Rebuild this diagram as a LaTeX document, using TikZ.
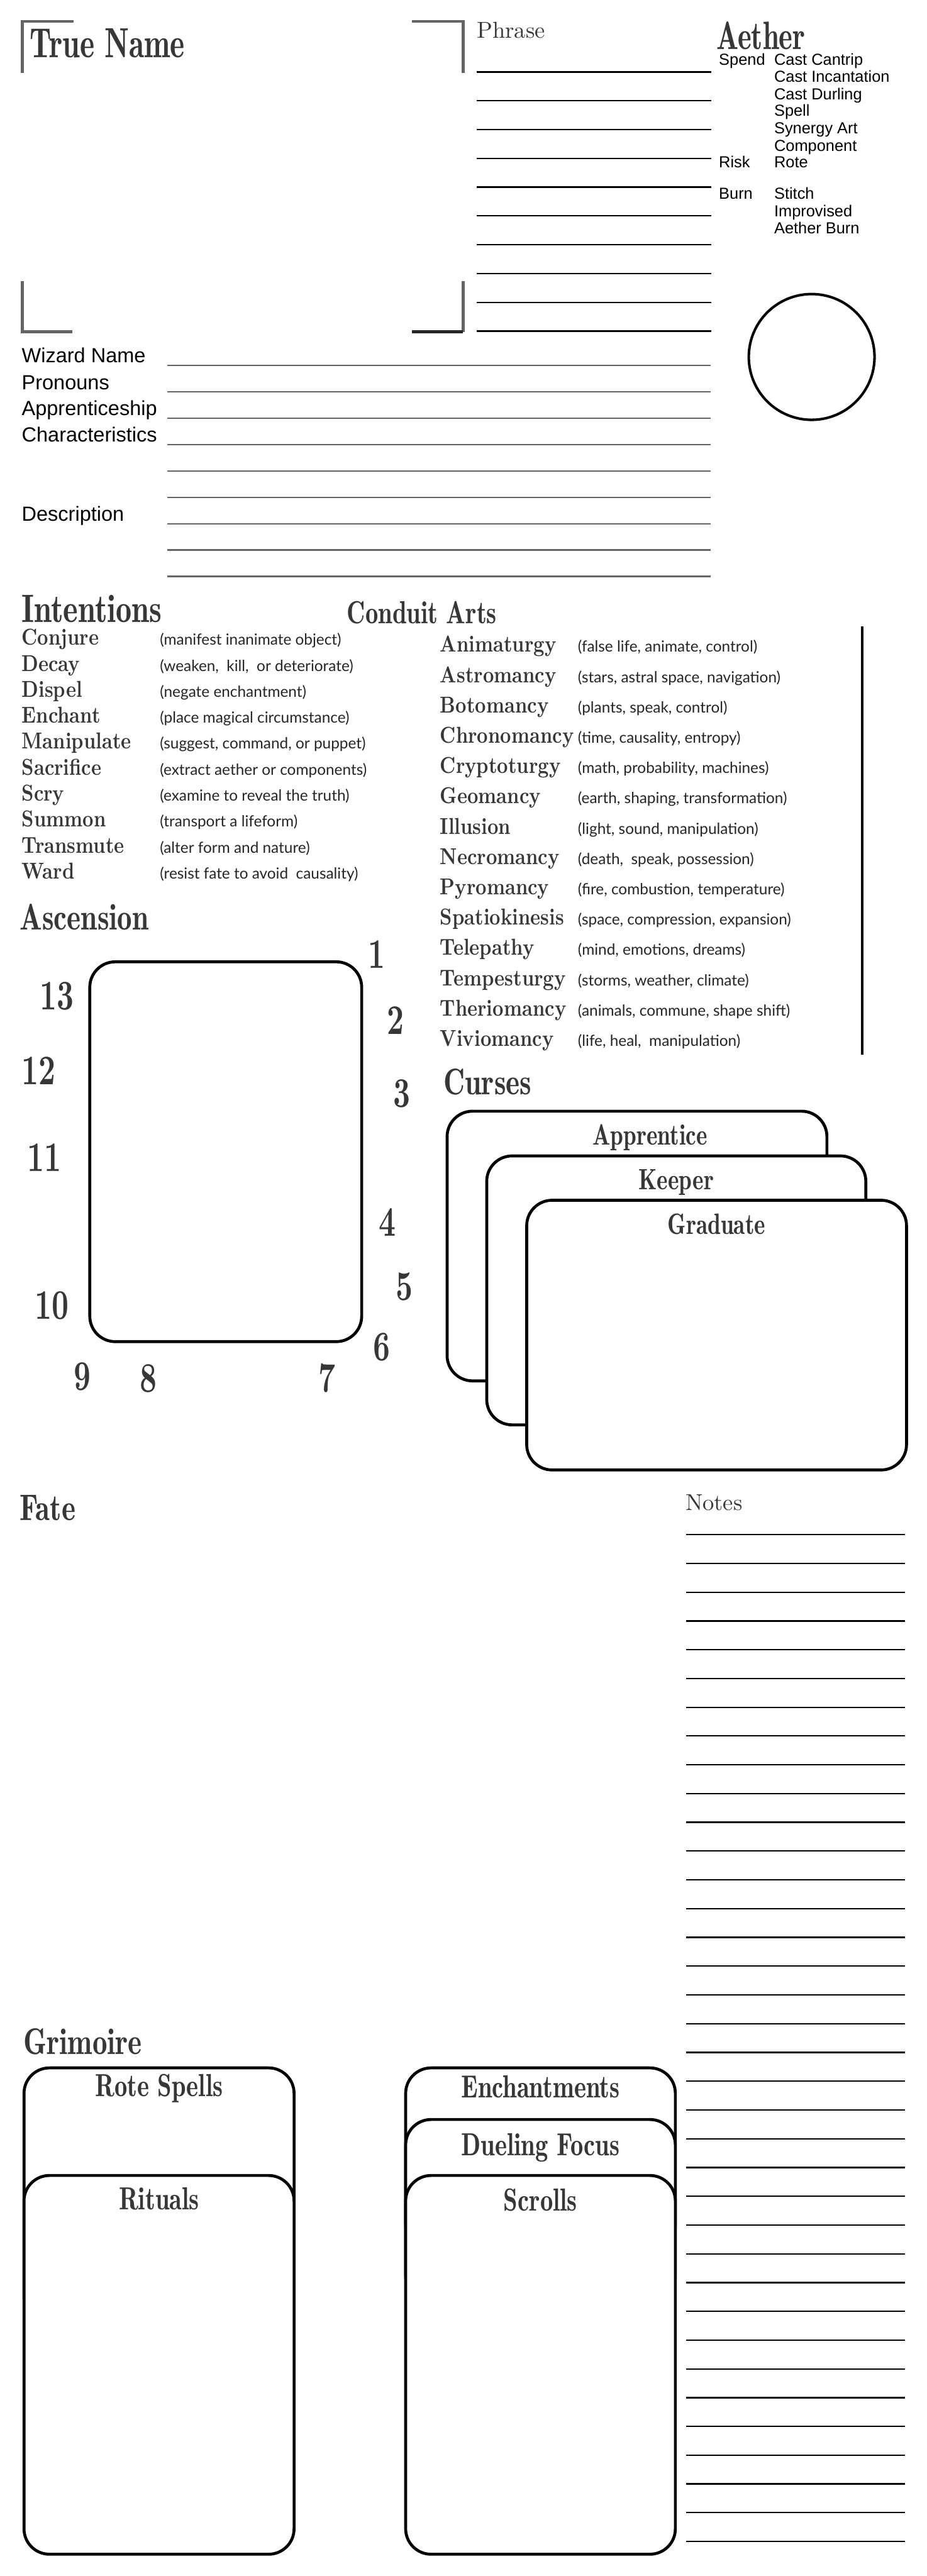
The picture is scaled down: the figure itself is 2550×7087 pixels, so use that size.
\documentclass[tikz,border=0pt]{standalone}
\usepackage{fontspec}
\usetikzlibrary{positioning}
\newfontfamily\fieldfont{Liberation Sans}
\newfontfamily\handfont{Lato}
\newfontfamily\titlefont[FakeStretch=0.74]{lmromandemi10-regular.otf}
\newfontfamily\headfont[FakeStretch=0.8]{lmromandemi10-regular.otf}
\newfontfamily\plainhead{lmroman10-regular.otf}
\newfontfamily\artfont[FakeStretch=0.83]{lmroman10-bold.otf}
\newfontfamily\numfont[FakeStretch=0.7]{lmroman10-bold.otf}
\definecolor{InkGray}{RGB}{55,55,55}
\definecolor{RuleGray}{RGB}{102,102,102}
\definecolor{BracketGray}{RGB}{100,100,100}

\tikzset{
  sheettext/.style={anchor=base west, inner sep=0pt, outer sep=0pt},
  titletext/.style={sheettext, text=InkGray, font=\titlefont\fontsize{#1}{#1}\selectfont},
  headtext/.style={sheettext, text=InkGray, font=\headfont\fontsize{#1}{#1}\selectfont},
  plaintext/.style={sheettext, text=InkGray, font=\plainhead\fontsize{#1}{#1}\selectfont},
  arttext/.style={sheettext, text=InkGray, font=\artfont\fontsize{18}{18}\selectfont},
  handtext/.style={sheettext, text=black!85, font=\handfont\fontsize{#1}{#1}\selectfont},
  fieldtext/.style={sheettext, font=\fieldfont\fontsize{#1}{#1}\selectfont},
  numtext/.style={inner sep=0pt, text=InkGray, font=\numfont\fontsize{33}{33}\selectfont},
  ruleline/.style={line width=1.1pt},
  fieldline/.style={line width=1.1pt, draw=RuleGray},
  bracketline/.style={line width=2.3pt, draw=BracketGray},
  cardbox/.style={draw, line width=2.3pt, fill=white, rounded corners=7mm, anchor=north west, inner sep=0pt},
  cardtitle/.style={headtext=#1, anchor=base}
}

\begin{document}
\begin{tikzpicture}[x=0.1mm, y=-0.1mm]
\useasboundingbox (0,0) rectangle (2550,7087);
\fill[white] (0,0) rectangle (2550,7087);

% true name frame
\draw[bracketline] (203,59) -- (62,59) -- (62,200);
\draw[bracketline] (1133,59) -- (1274,59) -- (1274,200);
\draw[bracketline] (62,773) -- (62,913) -- (199,913);
\draw[bracketline] (1274,773) -- (1274,913);
\draw[bracketline, draw=black!85] (1133,913) -- (1274,913);
\node[titletext=33] (truename) at (83,158) {True Name};

% phrase
\node[plaintext=18] (phrase) at (1312,104) {Phrase};
\foreach \i in {0,...,9}
  \draw[ruleline] (1312,198+79.2*\i) -- (1956,198+79.2*\i);

% aether
\node[titletext=31] (aether) at (1971,136) {Aether};
\node[fieldtext=12.5] (spend) at (1978,179) {Spend};
\node[fieldtext=12.5] (risk) at (1978,461) {Risk};
\node[fieldtext=12.5] (burn) at (1978,548) {Burn};
\foreach \txt/\yy [count=\i] in {Cast Cantrip/179, Cast Incantation/226, Cast Durling/274,
    Spell/320, Synergy Art/368, Component/416, Rote/461, Stitch/548, Improvised/596, Aether Burn/642}
  \node[fieldtext=12.5] (cost\i) at (2130,\yy) {\txt};

% portrait
\node[draw, circle, line width=2pt, minimum size=34.6mm, inner sep=0pt] (portrait) at (2233,982) {};

% wizard fields
\foreach \txt/\yy [count=\i] in {Wizard Name/998, Pronouns/1071, Apprenticeship/1143,
    Characteristics/1216, Description/1434}
  \node[fieldtext=16] (field\i) at (60,\yy) {\txt};
\foreach \i in {0,...,8}
  \draw[fieldline] (461,1005+72.6*\i) -- (1955,1005+72.6*\i);

% intentions
\node[headtext=31] (intentions) at (60,1712) {Intentions};
\foreach \name/\desc [count=\i from 0] in {Conjure/{(manifest inanimate object)},
    Decay/{(weaken, \ kill, \ or deteriorate)}, Dispel/{(negate enchantment)},
    Enchant/{(place magical circumstance)}, Manipulate/{(suggest, command, or puppet)},
    Sacrifice/{(extract aether or components)}, Scry/{(examine to reveal the truth)},
    Summon/{(transport a lifeform)}, Transmute/{(alter form and nature)},
    Ward/{(resist fate to avoid \ causality)}}
{
  \node[arttext] (intent\i) at (60,1775+71.4*\i) {\name};
  \node[handtext=12] (intentdesc\i) at (440,1775+71.4*\i) {\desc};
}

% conduit arts
\node[headtext=25] (conduit) at (955,1715) {Conduit Arts};
\foreach \name/\desc [count=\i from 0] in {Animaturgy/{(false life, animate, control)},
    Astromancy/{(stars, astral space, navigation)}, Botomancy/{(plants, speak, control)},
    Chronomancy/{(time, causality, entropy)}, Cryptoturgy/{(math, probability, machines)},
    Geomancy/{(earth, shaping, transformation)}, Illusion/{(light, sound, manipulation)},
    Necromancy/{(death, \ speak, possession)}, Pyromancy/{(fire, combustion, temperature)},
    Spatiokinesis/{(space, compression, expansion)}, Telepathy/{(mind, emotions, dreams)},
    Tempesturgy/{(storms, weather, climate)}, Theriomancy/{(animals, commune, shape shift)},
    Viviomancy/{(life, heal, \ manipulation)}}
{
  \node[arttext] (art\i) at (1211,1794+83.4*\i) {\name};
  \node[handtext=12] (artdesc\i) at (1590,1794+83.4*\i) {\desc};
}
\draw[line width=2pt] (2372,1723) -- (2372,2902);

% ascension
\node[headtext=29] (ascension) at (55,2558) {Ascension};
\node[cardbox, minimum width=74.8mm, minimum height=104.5mm] (ascbox) at (243,2642) {};
\foreach \n/\xx/\yy in {1/1037/2625, 2/1088/2807, 3/1105/3008, 4/1065/3362, 5/1113/3539,
    6/1050/3706, 7/899/3792, 8/409/3792, 9/227/3788, 10/142/3591, 11/122/3185,
    12/107/2945, 13/157/2740}
  \node[numtext] (rung\n) at (\xx,\yy) {\n};

% curses
\node[headtext=29] (curses) at (1221,3012) {Curses};
\node[cardbox, minimum width=104.5mm, minimum height=74.2mm] (apprentice) at (1226,3053) {};
\node[cardtitle=23] (apprenticetitle) at ([xshift=3.6mm, yshift=-9.6mm]apprentice.north) {Apprentice};
\node[cardbox, minimum width=104.3mm, minimum height=74mm] (keeper) at (1335,3176) {};
\node[cardtitle=23] (keepertitle) at ([yshift=-9.7mm]keeper.north) {Keeper};
\node[cardbox, minimum width=104.5mm, minimum height=74.2mm] (graduate) at (1445,3298) {};
\node[cardtitle=23] (graduatetitle) at ([yshift=-9.7mm]graduate.north) {Graduate};

% fate and notes
\node[headtext=29] (fate) at (54,4182) {Fate};
\node[plaintext=18] (notes) at (1886,4155) {Notes};
\foreach \i in {0,...,35}
  \draw[ruleline] (1888,4222+79.14*\i) -- (2490,4222+79.14*\i);

% grimoire
\node[headtext=29] (grimoire) at (65,5652) {Grimoire};
\node[cardbox, minimum width=74.3mm, minimum height=70mm] (rote) at (62,5685) {};
\node[cardtitle=25] (rotetitle) at ([yshift=-8.3mm]rote.north) {Rote Spells};
\node[cardbox, minimum width=74.3mm, minimum height=104.2mm] (rituals) at (62,5981) {};
\node[cardtitle=25] (ritualstitle) at ([yshift=-9.8mm]rituals.north) {Rituals};
\node[cardbox, minimum width=74.2mm, minimum height=50mm] (enchant) at (1112,5685) {};
\node[cardtitle=25] (enchanttitle) at ([yshift=-8.6mm]enchant.north) {Enchantments};
\node[cardbox, minimum width=74.2mm, minimum height=50mm] (dueling) at (1112,5827) {};
\node[cardtitle=25] (duelingtitle) at ([yshift=-10.3mm]dueling.north) {Dueling Focus};
\node[cardbox, minimum width=74.2mm, minimum height=104.2mm] (scrolls) at (1112,5981) {};
\node[cardtitle=25] (scrollstitle) at ([yshift=-10.1mm]scrolls.north) {Scrolls};

\end{tikzpicture}
\end{document}
